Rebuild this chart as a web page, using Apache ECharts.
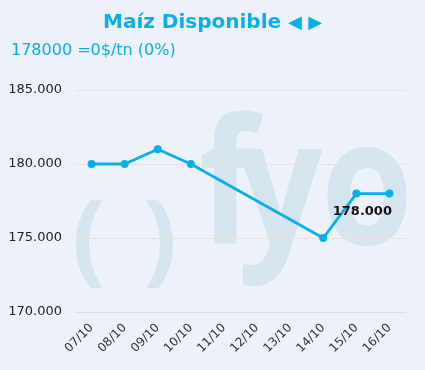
<!DOCTYPE html>
<html><head><meta charset="utf-8">
<script src="https://cdn.jsdelivr.net/npm/echarts@6/dist/echarts.min.js"></script>
<style>html,body{margin:0;padding:0;background:#edf2fa;}#c{width:425px;height:370px;}</style>
</head><body><div id="c"></div>
<script>
var categories = ['07/10','08/10','09/10','10/10','11/10','12/10','13/10','14/10','15/10','16/10'];
var values = [180000,180000,181000,180000,null,null,null,175000,178000,178000];
var yTicks = [170000,175000,180000,185000];
var titleText = 'Maíz Disponible';
var subText = '178000 =0$/tn (0%)';
var labelIndex = 8;

function fmtY(v){ return (v/1000).toFixed(3); }

var chart = echarts.init(document.getElementById('c'));
var wmColor = '#d4e5f0';
var wmFont = {fontFamily:'Open Sans', fontWeight:'bold', fill:wmColor};
function wm(t, x, y, size, sx){
  return {type:'text', x:x, y:y, scaleX:sx, z:0, silent:true,
    style:Object.assign({text:t, fontSize:size}, wmFont)};
}
chart.setOption({
  backgroundColor:'#edf2fa',
  animation:false,
  graphic:[
    wm('f', 199, 107, 175, 0.85),
    wm('y', 238, 107, 175, 0.85),
    wm('o', 321, 107, 175, 0.85),
    wm('(', 72, 194, 100, 1),
    wm(')', 143, 194, 100, 1)
  ],
  title:[
    {text:titleText + ' {a|◀ ▶}', left:'center', top:8, textStyle:{fontFamily:'DejaVu Sans', fontSize:20, fontWeight:'bold', color:'#0aafe6', rich:{a:{fontFamily:'DejaVu Sans', fontSize:18, color:'#0aafe6'}}}},
    {text:subText, left:6, top:38, textStyle:{fontFamily:'DejaVu Sans', fontSize:16, fontWeight:'normal', color:'#0aafe6'}}
  ],
  grid:{left:75, right:19, top:90, bottom:58},
  xAxis:{type:'category', data:categories, boundaryGap:true,
    axisLine:{lineStyle:{color:'#dddddd'}}, axisTick:{lineStyle:{color:'#dddddd'}, length:5},
    axisLabel:{rotate:45, interval:0, fontFamily:'DejaVu Sans', fontSize:12, color:'#333', margin:14}},
  yAxis:{type:'value', min:yTicks[0], max:yTicks[yTicks.length-1], interval:5000,
    axisLine:{show:false}, axisTick:{show:false},
    splitLine:{lineStyle:{color:'#e4e4e4'}},
    axisLabel:{fontFamily:'DejaVu Sans', fontSize:13, color:'#222', margin:13, formatter:fmtY}},
  series:[{type:'line', data:values.map(function(v,i){
      if(i===labelIndex) return {value:v, label:{show:true, position:'bottom', distance:8, offset:[6,0], formatter:function(p){return fmtY(p.value);}, fontFamily:'DejaVu Sans', fontWeight:'bold', fontSize:13, color:'#111'}};
      return v;}),
    connectNulls:true, symbol:'circle', symbolSize:8,
    lineStyle:{color:'#0aafe6', width:2.8}, itemStyle:{color:'#0aafe6'}, z:3}]
});
</script></body></html>
